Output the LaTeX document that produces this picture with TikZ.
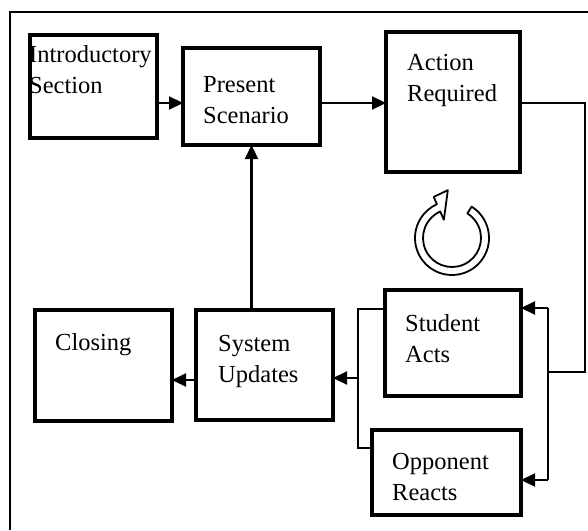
\documentclass[tikz,border=0pt]{standalone}
\usepackage{fontspec}
\setmainfont{Liberation Serif}
\usetikzlibrary{arrows.meta}

\tikzset{
  box/.style={draw, line width=3.4pt, rectangle, anchor=north west,
              inner sep=0pt, outer sep=0pt},
  lbl/.style={anchor=base west, align=left, inner sep=0pt,
              font=\fontsize{24.5}{31}\selectfont},
  conn/.style={line width=2.2pt},
  flow/.style={conn, -{Triangle[length=14pt,width=13pt]}},
}

\begin{document}
\begin{tikzpicture}[x=1pt, y=-1pt]
\useasboundingbox (0,0) rectangle (588,530);

% open outer frame
\draw[line width=2pt] (10,530) -- (10,12) -- (588,12);

% process boxes
\node[box, minimum width=127pt, minimum height=103pt] (intro) at (30,35) {};
\node[box, minimum width=137pt, minimum height=97pt]  (pres)  at (183,48) {};
\node[box, minimum width=134pt, minimum height=140pt] (act)   at (386,32) {};
\node[box, minimum width=136pt, minimum height=106pt] (stud)  at (385,290) {};
\node[box, minimum width=149pt, minimum height=85pt]  (opp)   at (372,430) {};
\node[box, minimum width=137pt, minimum height=110pt] (sys)   at (196,310) {};
\node[box, minimum width=137pt, minimum height=111pt] (clos)  at (35,310) {};

% box captions (anchored on the baseline of their last line)
\node[lbl] (introT) at (29,93)   {Introductory\\Section};
\node[lbl] (presT)  at (203,123) {Present\\Scenario};
\node[lbl] (actT)   at (407,101) {Action\\Required};
\node[lbl] (studT)  at (405,362) {Student\\Acts};
\node[lbl] (oppT)   at (392,500) {Opponent\\Reacts};
\node[lbl] (sysT)   at (218,382) {System\\Updates};
\node[lbl] (closT)  at (55,350)  {Closing};

% main flow
\draw[flow] (intro.east |- 0,103) -- (pres.west |- 0,103);
\draw[flow] (pres.east |- 0,103) -- (act.west |- 0,103);

% loop back from the action box to both actors
\coordinate (rtop) at (548,308);
\coordinate (rbot) at (548,480);
\draw[conn] (act.east |- 0,103) -- (585,103) -- (585,372) -- (rtop |- 0,372);
\draw[conn] (rtop) -- (rbot);
\draw[flow] (rtop) -- (stud.east |- rtop);
\draw[flow] (rbot) -- (opp.east |- rbot);

% actors feed the system update
\coordinate (ltop) at (358,309);
\coordinate (lbot) at (358,448);
\draw[conn] (stud.west |- ltop) -- (ltop) -- (lbot) -- (opp.west |- lbot);
\draw[flow] (ltop |- 0,378) -- (sys.east |- 0,378);

\draw[flow] (sys.west |- 0,380) -- (clos.east |- 0,380);
\draw[flow] (pres.south |- sys.north) -- (pres.south);

% hollow circular arrow
\begin{scope}[shift={(452,238)}]
  \draw[line width=1.8pt, fill=white, line join=round]
    (-58:37) arc[start angle=-58, end angle=246, radius=37]
    -- (246:45) -- (265:48) -- (246:20) -- (246:29)
    arc[start angle=246, end angle=-58, radius=29] -- cycle;
\end{scope}
\end{tikzpicture}
\end{document}
